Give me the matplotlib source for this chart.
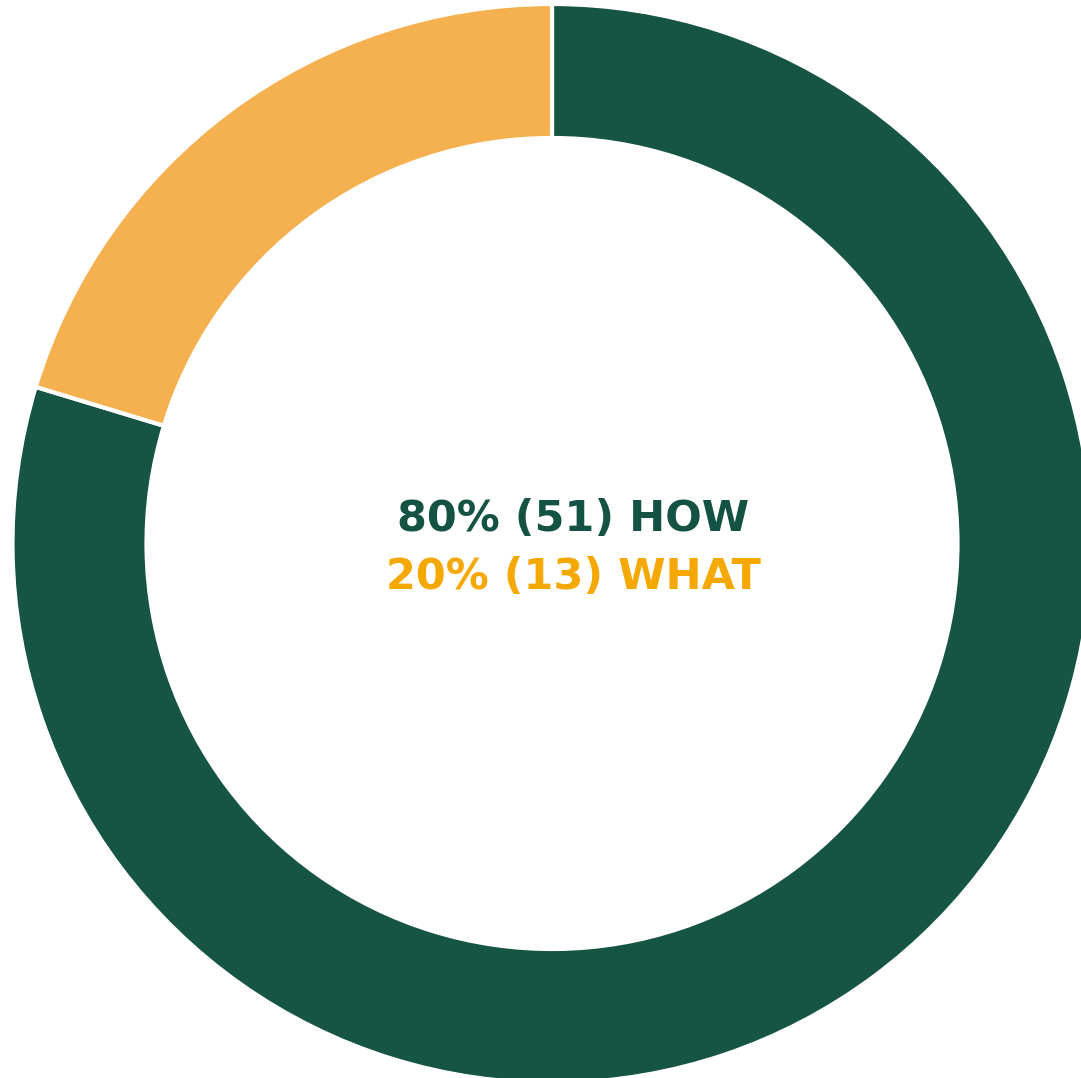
import matplotlib
matplotlib.use('Agg')
import matplotlib.pyplot as plt

# Data
labels = ['HOW', 'WHAT']
counts = [51, 13]
percents = [80, 20]
colors = ['#165444', '#F5B04F']
text_colors = ['#145343', '#F5A800']

W, H = 1081, 1078
fig = plt.figure(figsize=(W / 100, H / 100), dpi=100)
ax = fig.add_axes([0, 0, 1, 1])

# white edge eats 1.5px on each side, so radius/width are padded a bit
ax.pie(counts, colors=colors, startangle=90, counterclock=False,
       center=(552, H - 543.5), radius=539.5,
       wedgeprops=dict(width=134, edgecolor='white', linewidth=3))

ax.set_xlim(0, W)
ax.set_ylim(0, H)
ax.set_aspect('equal', adjustable='box')
ax.axis('off')

# Center text (baselines)
baselines = [531, 589]
for i, (p, c, lab) in enumerate(zip(percents, counts, labels)):
    ax.text(573, H - baselines[i], f'{p}% ({c}) {lab}',
            ha='center', va='baseline', fontsize=31, fontweight='bold',
            family=['DejaVu Sans'], color=text_colors[i])

fig.savefig('out.png', dpi=100)
